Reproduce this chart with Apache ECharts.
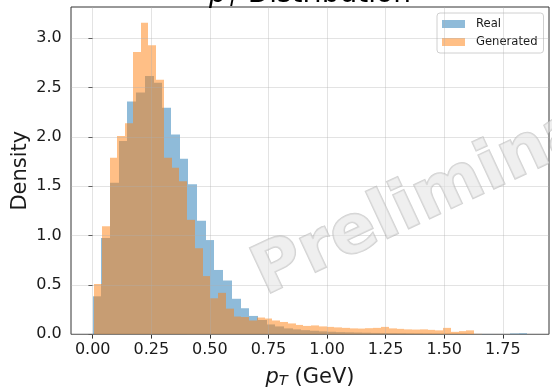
<!DOCTYPE html>
<html>
<head>
<meta charset="utf-8">
<script src="https://cdn.jsdelivr.net/npm/echarts@6/dist/echarts.min.js"></script>
<style>
  html, body { margin: 0; padding: 0; background: #fff; }
  #chart { width: 552px; height: 387px; }
</style>
</head>
<body>
<div id="chart"></div>
<script>
// Transverse-momentum histograms (density-normalised), 50 regular bins each
const realBinStart = 0.0;
const realBinWidth = 0.0371;
const realDensity = [
  0.385, 0.977, 1.535, 1.96, 2.36, 2.45, 2.617, 2.55, 2.295, 2.025,
  1.778, 1.52, 1.15, 0.955, 0.652, 0.545, 0.36, 0.264, 0.186, 0.145,
  0.10, 0.08, 0.06, 0.05, 0.042, 0.036, 0.03, 0.026, 0.022, 0.02,
  0.018, 0.016, 0.014, 0.012, 0.011, 0.01, 0.009, 0.008, 0.007, 0.006,
  0.005, 0.005, 0.004, 0.003, 0.003, 0.002, 0, 0, 0.008, 0.01
];

const genBinStart = 0.0055;
const genBinWidth = 0.0331;
const genDensity = [
  0.51, 1.095, 1.79, 2.01, 2.14, 2.86, 3.157, 2.93, 2.58, 1.79,
  1.687, 1.55, 1.16, 0.872, 0.59, 0.365, 0.42, 0.26, 0.18, 0.175,
  0.14, 0.17, 0.16, 0.14, 0.125, 0.11, 0.095, 0.085, 0.09, 0.08,
  0.075, 0.07, 0.065, 0.06, 0.058, 0.062, 0.065, 0.075, 0.06, 0.055,
  0.05, 0.048, 0.05, 0.045, 0.04, 0.065, 0.025, 0.032, 0.04, 0.004
];

const xTicks = [0, 0.25, 0.5, 0.75, 1.0, 1.25, 1.5, 1.75];
const yTicks = [0, 0.5, 1.0, 1.5, 2.0, 2.5, 3.0];

const seriesNames = ['Real', 'Generated'];
const realColor = 'rgba(31,119,180,0.5)';
const genColor = 'rgba(255,127,14,0.5)';

const FONT = 'DejaVu Sans';
const TEXT = '#1a1a1a';
const SPINE = '#333333';

function toBins(start, width, density) {
  return density.map((d, i) => [start + i * width, start + (i + 1) * width, d]);
}

// one filled rectangle per bin, edges snapped to whole pixels to avoid seams
function histRenderer(color) {
  return function (params, api) {
    const top = api.coord([api.value(0), api.value(2)]);
    const base = api.coord([api.value(1), 0]);
    const x0 = Math.round(top[0]);
    const x1 = Math.round(base[0]);
    return {
      type: 'rect',
      shape: { x: x0, y: top[1], width: x1 - x0, height: base[1] - top[1] },
      style: { fill: color }
    };
  };
}

// rich styles for "p_T" style labels (italic p, lowered italic subscript)
function mathRich(fs) {
  return {
    it: { fontFamily: FONT, fontStyle: 'italic', fontSize: fs, lineHeight: fs * 1.1, color: TEXT },
    sub: { fontFamily: FONT, fontStyle: 'italic', fontSize: fs * 0.7, lineHeight: fs * 0.5, verticalAlign: 'bottom', color: TEXT },
    rm: { fontFamily: FONT, fontSize: fs, lineHeight: fs * 1.1, color: TEXT }
  };
}

const chart = echarts.init(document.getElementById('chart'), null, { renderer: 'canvas' });

chart.setOption({
  animation: false,
  backgroundColor: '#ffffff',
  grid: {
    left: 71, top: 7, right: 3, bottom: 52.7,
    outerBoundsMode: 'none',
    containLabel: false,
    show: true, borderColor: SPINE, borderWidth: 1, backgroundColor: 'transparent'
  },
  xAxis: {
    type: 'value',
    min: -0.0926, max: 1.947,
    axisLine: { show: false },
    splitLine: { show: false },
    axisTick: { show: true, customValues: xTicks, length: 4.3, lineStyle: { color: SPINE, width: 1 } },
    axisLabel: {
      customValues: xTicks, margin: 8,
      formatter: v => v.toFixed(2),
      fontFamily: FONT, fontSize: 16, color: TEXT
    },
    name: '{it|p}{sub|T}{rm| (GeV)}',
    nameLocation: 'middle',
    nameGap: 31.5,
    nameMoveOverlap: false,
    nameTextStyle: { rich: mathRich(21) }
  },
  yAxis: {
    type: 'value',
    min: 0, max: 3.317,
    axisLine: { show: false },
    splitLine: { show: false },
    axisTick: { show: true, customValues: yTicks, length: 4.3, lineStyle: { color: SPINE, width: 1 } },
    axisLabel: {
      customValues: yTicks, margin: 9.3,
      formatter: v => v.toFixed(1),
      fontFamily: FONT, fontSize: 16, color: TEXT
    },
    name: 'Density',
    nameLocation: 'middle',
    nameGap: 40,
    nameMoveOverlap: false,
    nameTextStyle: { fontFamily: FONT, fontSize: 21, color: TEXT }
  },
  legend: {
    data: seriesNames,
    orient: 'vertical',
    left: 437, top: 13,
    icon: 'rect',
    itemWidth: 23, itemHeight: 8, itemGap: 4,
    padding: [4, 6, 4, 5],
    backgroundColor: 'rgba(255,255,255,0.8)',
    borderColor: '#d0d0d0', borderWidth: 1, borderRadius: 3,
    textStyle: { fontFamily: FONT, fontSize: 11.6, lineHeight: 14, color: TEXT, padding: [0, 0, 0, 6] },
    selectedMode: false
  },
  graphic: [
    {
      type: 'text',
      x: 310, y: 10.6,
      silent: true,
      style: {
        text: '{it|p}{sub|T}{rm| Distribution}',
        align: 'center', verticalAlign: 'bottom',
        rich: mathRich(28)
      },
      z: 100
    },
    {
      type: 'text',
      x: 458, y: 186,
      rotation: 25 * Math.PI / 180,
      silent: true,
      style: {
        text: 'Preliminary',
        align: 'center', verticalAlign: 'middle',
        fontFamily: FONT, fontWeight: 'bold', fontSize: 68,
        fill: 'rgba(228,228,228,0.6)',
        stroke: 'rgba(165,165,165,0.5)', lineWidth: 1.6
      },
      z: 100
    }
  ],
  series: [
    {
      name: 'Real',
      type: 'custom',
      renderItem: histRenderer(realColor),
      itemStyle: { color: realColor },
      encode: { x: [0, 1], y: 2 },
      data: toBins(realBinStart, realBinWidth, realDensity),
      z: 2
    },
    {
      name: 'Generated',
      type: 'custom',
      renderItem: histRenderer(genColor),
      itemStyle: { color: genColor },
      encode: { x: [0, 1], y: 2 },
      data: toBins(genBinStart, genBinWidth, genDensity),
      z: 3
    },
    {
      // light grid drawn above the bars at every tick position
      name: 'gridlines',
      type: 'line',
      data: [],
      silent: true,
      z: 6,
      markLine: {
        silent: true,
        animation: false,
        symbol: ['none', 'none'],
        label: { show: false },
        emphasis: { disabled: true },
        lineStyle: { color: 'rgba(176,176,176,0.35)', width: 1, type: 'solid' },
        data: [
          ...xTicks.map(v => ({ xAxis: v })),
          ...yTicks.map(v => ({ yAxis: v }))
        ]
      }
    }
  ]
});
</script>
</body>
</html>
